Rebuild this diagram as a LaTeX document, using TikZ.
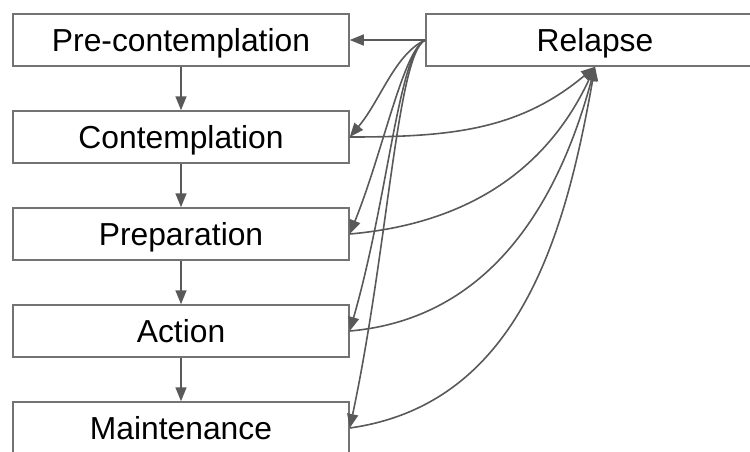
\documentclass[tikz,border=0pt]{standalone}
\usepackage{fontspec}
\setmainfont{Liberation Sans}
\usetikzlibrary{arrows.meta,positioning}

\begin{document}
\begin{tikzpicture}[x=1pt,y=1pt,node distance=97pt,on grid,
	stage/.style={draw=black!55,line width=1.5pt,minimum width=336pt,minimum height=52pt,
		inner sep=0pt,text height=22.8pt,text depth=0pt,font=\fontsize{31.8}{38}\selectfont},
	link/.style={draw=black!65,line width=1.6pt,-{Triangle[length=14pt,width=11pt]}}]
	\useasboundingbox (0,0) rectangle (750,-451);

	\node[stage] (pre) at (181,-40) {Pre-contemplation};
	\node[stage] (con) [below=of pre] {Contemplation};
	\node[stage] (prep) [below=of con] {Preparation};
	\node[stage] (act) [below=of prep] {Action};
	\node[stage] (main) [below=of act] {Maintenance};
	\node[stage,minimum width=338pt] (rel) [right=414pt of pre] {Relapse};

	\path[every edge/.style={link}]
	(pre) edge (con)
	(con) edge (prep)
	(prep) edge (act)
	(act) edge (main)

	(rel.west) edge (pre.east)
	           edge [out=205,in=50,out looseness=0.7,in looseness=1] (con.east)
	           edge [out=205,in=68,out looseness=0.3,in looseness=1.1] (prep.east)
	           edge [out=205,in=74,out looseness=0.25,in looseness=1.2] (act.east)
	           edge [out=205,in=78,out looseness=0.2,in looseness=1.2] (main.east)

	(con.east) edge [out=0,in=-140] (rel.south)
	(prep.east) edge [out=5,in=-115] (rel.south)
	(act.east) edge [out=5,in=-105] (rel.south)
	(main.east) edge [out=8,in=-100] (rel.south);

\end{tikzpicture}
\end{document}
